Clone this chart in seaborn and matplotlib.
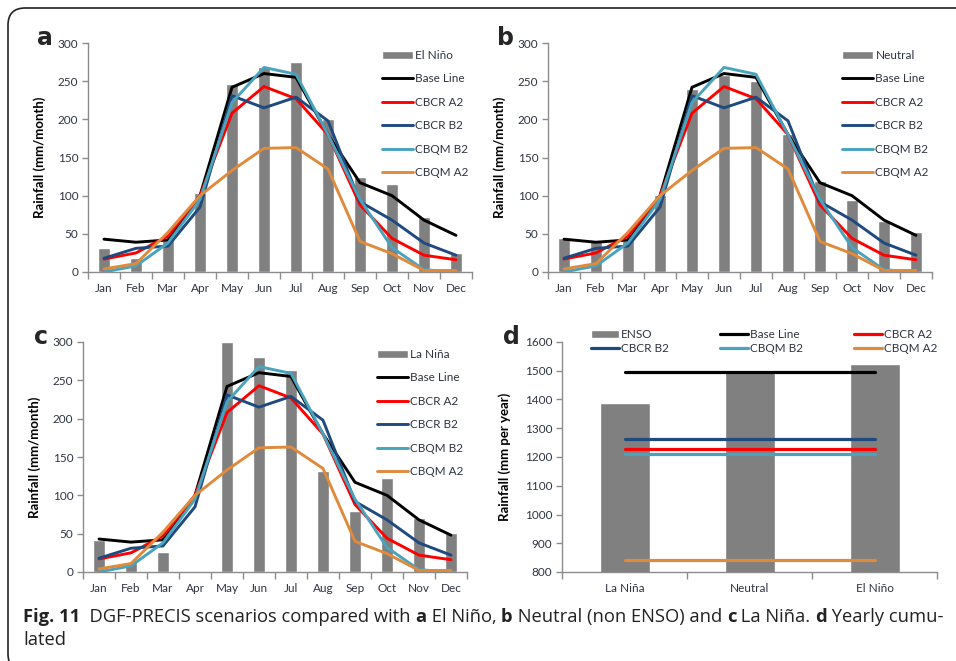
import numpy as np
import pandas as pd
import matplotlib
matplotlib.use("Agg")
import matplotlib.pyplot as plt
from matplotlib import font_manager
from matplotlib.patches import FancyBboxPatch
import seaborn as sns

# ---------------- data ----------------
months = ["Jan", "Feb", "Mar", "Apr", "May", "Jun", "Jul", "Aug", "Sep", "Oct", "Nov", "Dec"]
series_names = ["Base Line", "CBCR A2", "CBCR B2", "CBQM B2", "CBQM A2"]
base_line = [43, 39, 42, 100, 242, 260, 255, 180, 117, 100, 68, 48]
cbcr_a2 = [17, 25, 47, 100, 208, 243, 227, 180, 88, 44, 22, 16]
cbcr_b2 = [18, 31, 34, 85, 231, 215, 229, 198, 92, 68, 38, 22]
cbqm_b2 = [0, 8, 38, 95, 222, 268, 259, 180, 95, 32, 3, 0]
cbqm_a2 = [4, 11, 52, 100, 133, 162, 163, 135, 40, 24, 2, 2]

el_nino = [31, 18, 42, 103, 246, 268, 275, 201, 124, 115, 72, 25]
neutral = [45, 40, 42, 101, 240, 258, 250, 181, 119, 94, 67, 52]
la_nina = [42, 13, 26, 0, 300, 280, 264, 132, 79, 122, 71, 51]

enso_cats = ["La Niña", "Neutral", "El Niño"]
enso_totals = [1387, 1500, 1525]
yearly_lines = [1495, 1228, 1263, 1210, 843]  # Base Line, CBCR A2, CBCR B2, CBQM B2, CBQM A2

# ---------------- style ----------------
sns.set_theme(style="white")
avail = {f.name for f in font_manager.fontManager.ttflist}
chart_font = "Lato" if "Lato" in avail else "DejaVu Sans"
plt.rcParams["font.family"] = [chart_font, "DejaVu Sans"]

colors = {"Base Line": "#000000", "CBCR A2": "#FF0000", "CBCR B2": "#1F4A7E",
          "CBQM B2": "#4AA3BD", "CBQM A2": "#E08A3C"}
bar_color = "#808080"
text_col = "#2E3440"
spine_col = "#8C8C8C"

W, H = 956, 661
fig = plt.figure(figsize=(W / 100, H / 100), dpi=100)


def ax_rect(l, t, r, b):
    return [l / W, 1 - b / H, (r - l) / W, (b - t) / H]


series_vals = [base_line, cbcr_a2, cbcr_b2, cbqm_b2, cbqm_a2]
lines_df = pd.DataFrame({
    "pos": np.tile(np.arange(len(months)), len(series_names)),
    "value": np.concatenate(series_vals),
    "series": np.repeat(series_names, len(months)),
})


def style_axis(ax, ymin, ymax, step, ncat):
    ax.set_xlim(-0.5, ncat - 0.5)
    ax.set_ylim(ymin, ymax)
    ax.set_yticks(np.arange(ymin, ymax + 1, step))
    for s in ["top", "right"]:
        ax.spines[s].set_visible(False)
    for s in ["left", "bottom"]:
        ax.spines[s].set_color(spine_col)
        ax.spines[s].set_linewidth(1.0)
    ax.tick_params(axis="y", which="major", direction="out", length=4, width=1,
                   color=spine_col, labelsize=8.5, labelcolor=text_col, pad=3, left=True)
    ax.tick_params(axis="x", which="major", length=0, labelsize=8.5, labelcolor=text_col, pad=8)
    ax.set_xticks(np.arange(-0.5, ncat, 1.0), minor=True)
    ax.tick_params(axis="x", which="minor", direction="out", length=5, width=1,
                   color=spine_col, bottom=True)
    ax.set_xlabel("")


def monthly_panel(rect, bars, bar_label, letter, letter_xy, ylab_x):
    ax = fig.add_axes(rect)
    bdf = pd.DataFrame({"month": months, "value": bars})
    sns.barplot(data=bdf, x="month", y="value", order=months, color=bar_color,
                width=0.4, saturation=1, ax=ax, label=bar_label, zorder=1)
    sns.lineplot(data=lines_df, x="pos", y="value", hue="series", hue_order=series_names,
                 palette=colors, linewidth=2.1, ax=ax, zorder=3, sort=False)
    style_axis(ax, 0, 300, 50, len(months))
    ax.set_xticks(np.arange(len(months)))
    ax.set_xticklabels(months)
    ax.set_ylabel("Rainfall (mm/month)", fontsize=9.5, fontweight="bold", color="black")
    ax.yaxis.set_label_coords(ylab_x, 0.5)
    handles, labels = ax.get_legend_handles_labels()
    hd = dict(zip(labels, handles))
    order = [bar_label] + series_names
    leg = ax.legend([hd[k] for k in order], order, loc="upper right", bbox_to_anchor=(1.01, 1.0),
                    frameon=False, fontsize=8.5, handlelength=2.6, handletextpad=0.2,
                    labelspacing=1.05, borderaxespad=0.2)
    for t in leg.get_texts():
        t.set_color(text_col)
    fig.text(letter_xy[0] / W, 1 - letter_xy[1] / H, letter, fontsize=17, fontweight="bold",
             ha="left", va="center", family="DejaVu Sans")
    return ax


monthly_panel(ax_rect(88, 43, 472, 272), el_nino, "El Niño", "a", (37, 38), -0.11)
monthly_panel(ax_rect(548, 43, 932, 272), neutral, "Neutral", "b", (497, 38), -0.11)
monthly_panel(ax_rect(83, 342, 467, 572), la_nina, "La Niña", "c", (34, 337), -0.11)

# ---------------- panel d ----------------
axd = fig.add_axes(ax_rect(562, 342, 937, 572))
ddf = pd.DataFrame({"cat": enso_cats, "value": enso_totals})
sns.barplot(data=ddf, x="cat", y="value", order=enso_cats, color=bar_color, width=0.4,
            saturation=1, ax=axd, label="ENSO", zorder=1, bottom=0)
yl_df = pd.DataFrame({
    "pos": np.tile([0, len(enso_cats) - 1], len(series_names)),
    "value": np.repeat(yearly_lines, 2),
    "series": np.repeat(series_names, 2),
})
sns.lineplot(data=yl_df, x="pos", y="value", hue="series", hue_order=series_names,
             palette=colors, linewidth=2.3, ax=axd, zorder=3, sort=False)
style_axis(axd, 800, 1600, 100, len(enso_cats))
axd.set_xticks(np.arange(len(enso_cats)))
axd.set_xticklabels(enso_cats)
axd.set_ylabel("Rainfall (mm per year)", fontsize=9.5, fontweight="bold", color="black")
axd.yaxis.set_label_coords(-0.135, 0.5)
h, l = axd.get_legend_handles_labels()
# column-major fill so that rows read: ENSO, Base Line, CBCR A2 / CBCR B2, CBQM B2, CBQM A2
order = ["ENSO", "CBCR B2", "Base Line", "CBQM B2", "CBCR A2", "CBQM A2"]
hd = dict(zip(l, h))
legd = axd.legend([hd[k] for k in order], order, ncol=3, loc="upper left",
                  bbox_to_anchor=(0.065, 1.075), frameon=False, fontsize=8.5,
                  handlelength=2.4, handletextpad=0.15, columnspacing=4.3, labelspacing=0.25,
                  borderaxespad=0.0)
for t in legd.get_texts():
    t.set_color(text_col)
fig.text(503 / W, 1 - 337 / H, "d", fontsize=17, fontweight="bold", ha="left", va="center",
         family="DejaVu Sans")

# ---------------- frame ----------------
frame = FancyBboxPatch((8 / W, -10 / H), (W + 40) / W, (H - 8 + 10) / H - 0.0,
                       boxstyle="round,pad=0,rounding_size=0.018",
                       transform=fig.transFigure, fill=False, edgecolor="#222222",
                       linewidth=1.2, mutation_aspect=W / H, clip_on=False)
fig.patches.append(frame)

# ---------------- caption ----------------
cap_font = None
for cand in ["Liberation Sans Narrow", "Open Sans", "Noto Sans", "DejaVu Sans"]:
    if cand in avail:
        cap_font = cand
        break

pieces = [("Fig. 11", "bold"), ("  DGF-PRECIS scenarios compared with ", "normal"),
          ("a", "bold"), (" El Niño, ", "normal"), ("b", "bold"),
          (" Neutral (non ENSO) and ", "normal"), ("c", "bold"), (" La Niña. ", "normal"),
          ("d", "bold"), (" Yearly cumu-", "normal")]

renderer = fig.canvas.get_renderer()


def measure(size):
    total = 0
    for txt, wgt in pieces:
        t = fig.text(0, 0, txt, fontsize=size, fontweight=wgt, family=cap_font)
        total += t.get_window_extent(renderer).width
        t.remove()
    return total


target = 915
size = 12.0
w0 = measure(size)
size = size * target / w0

x = 23
y1 = 1 - 617 / H
for txt, wgt in pieces:
    t = fig.text(x / W, y1, txt, fontsize=size, fontweight=wgt, family=cap_font,
                 va="center", ha="left", color="#222222")
    x += t.get_window_extent(renderer).width
fig.text(23 / W, 1 - 640 / H, "lated", fontsize=size, family=cap_font, va="center",
         ha="left", color="#222222")

fig.savefig("out.png", dpi=100)
